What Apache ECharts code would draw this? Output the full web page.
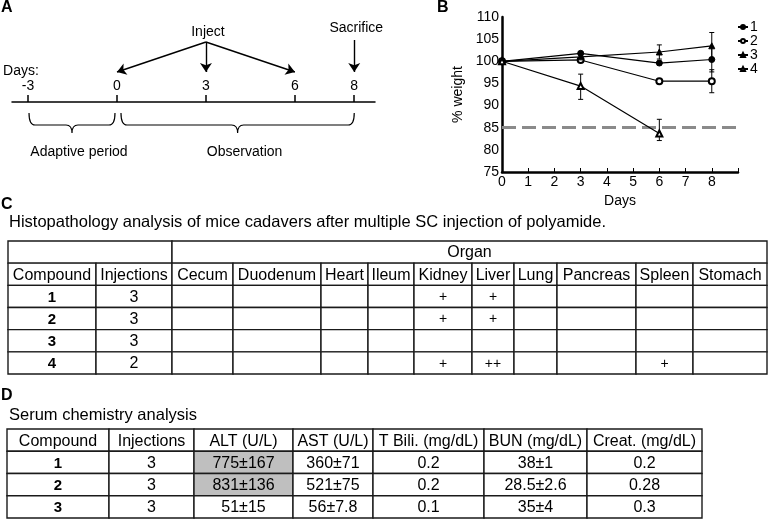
<!DOCTYPE html>
<html><head><meta charset="utf-8">
<script src="https://cdn.jsdelivr.net/npm/echarts@6/dist/echarts.min.js"></script>
<style>html,body{margin:0;padding:0;background:#fff}#c{width:768px;height:519px}</style>
</head><body><div id="c"></div>
<script>
// ---------- Panel A: timeline ----------
const timelineDays = [-3, 0, 3, 6, 8];
const injectDays = [0, 3, 6];
const sacrificeDay = 8;
const periodNames = ['Adaptive period', 'Observation'];
const periodStart = [-3, 0];
const periodEnd = [0, 8];

// ---------- Panel B: body weight ----------
const weightDays = [0, 3, 6, 8];
const seriesNames = ['1', '2', '3', '4'];
const weight1 = [100, 101.8, 99.6, 100.4];
const weight2 = [100, 100.3, 95.5, 95.5];
const weight3 = [100, 101.0, 102.1, 103.5];
const weight4 = [100, 94.4, 83.7];
const errUp1 = [0, 0.3, 0.4, 2.8];
const errDown1 = [0, 0.3, 0.4, 2.8];
const errUp2 = [0, 0.3, 0.3, 2.6];
const errDown2 = [0, 0.3, 0.3, 2.6];
const errUp3 = [0, 0.4, 1.6, 3.0];
const errDown3 = [0, 0.4, 1.6, 3.0];
const errUp4 = [0, 2.7, 3.2];
const errDown4 = [0, 3.0, 1.6];
const thresholdWeight = 85;

// ---------- Panel C: histopathology ----------
const organs = ['Cecum', 'Duodenum', 'Heart', 'Ileum', 'Kidney', 'Liver', 'Lung', 'Pancreas', 'Spleen', 'Stomach'];
const histoCompounds = ['1', '2', '3', '4'];
const histoInjections = ['3', '3', '3', '2'];
const histoFindings = [
  ['', '', '', '', '+', '+', '', '', '', ''],
  ['', '', '', '', '+', '+', '', '', '', ''],
  ['', '', '', '', '', '', '', '', '', ''],
  ['', '', '', '', '+', '++', '', '', '+', '']
];

// ---------- Panel D: serum chemistry ----------
const serumHeaders = ['Compound', 'Injections', 'ALT (U/L)', 'AST (U/L)', 'T Bili. (mg/dL)', 'BUN (mg/dL)', 'Creat. (mg/dL)'];
const serumCompounds = ['1', '2', '3'];
const serumInjections = ['3', '3', '3'];
const serumALT = ['775±167', '831±136', '51±15'];
const serumAST = ['360±71', '521±75', '56±7.8'];
const serumTBili = ['0.2', '0.2', '0.1'];
const serumBUN = ['38±1', '28.5±2.6', '35±4'];
const serumCreat = ['0.2', '0.28', '0.3'];
const serumALTElevated = [true, true, false];

// ---------- layout (not data) ----------
const colWidthsC = [88, 76, 61, 88, 47, 46, 58, 42, 43, 79, 57, 74];
const colWidthsD = [102, 85, 99, 80, 111, 103, 115];
const FONT = 'Liberation Sans';

function cum(w) { const r = [0]; w.forEach(v => r.push(r[r.length - 1] + v)); return r; }
const cumC = cum(colWidthsC), cumD = cum(colWidthsD);

// build cell lists
const cellsC = [];
cellsC.push({c0: 0, c1: 2, r: 0, text: ''});
cellsC.push({c0: 2, c1: 12, r: 0, text: 'Organ'});
['Compound', 'Injections'].concat(organs).forEach((t, i) => cellsC.push({c0: i, c1: i + 1, r: 1, text: t}));
histoCompounds.forEach((cmp, k) => {
  cellsC.push({c0: 0, c1: 1, r: 2 + k, text: cmp, bold: true});
  cellsC.push({c0: 1, c1: 2, r: 2 + k, text: histoInjections[k]});
  histoFindings[k].forEach((f, j) => cellsC.push({c0: 2 + j, c1: 3 + j, r: 2 + k, text: f, small: true}));
});

const cellsD = [];
serumHeaders.forEach((t, i) => cellsD.push({c0: i, c1: i + 1, r: 0, text: t}));
serumCompounds.forEach((cmp, k) => {
  const row = [cmp, serumInjections[k], serumALT[k], serumAST[k], serumTBili[k], serumBUN[k], serumCreat[k]];
  row.forEach((t, i) => cellsD.push({
    c0: i, c1: i + 1, r: 1 + k, text: t, bold: i === 0,
    fill: (i === 2 && serumALTElevated[k]) ? '#bfbfbf' : '#fff'
  }));
});

function tableSeries(idx, cells, cumW) {
  return {
    type: 'custom', xAxisIndex: idx, yAxisIndex: idx, silent: true, clip: false,
    data: cells.map(c => [cumW[c.c0], cumW[c.c1], c.r]),
    encode: {x: [0, 1], y: 2},
    renderItem: function (params, api) {
      const c = cells[params.dataIndex];
      const p0 = api.coord([api.value(0), api.value(2)]);
      const p1 = api.coord([api.value(1), api.value(2) + 1]);
      return {
        type: 'group', children: [
          {type: 'rect', shape: {x: p0[0], y: p0[1], width: p1[0] - p0[0], height: p1[1] - p0[1]},
            style: {fill: c.fill || '#fff', stroke: '#1a1a1a', lineWidth: 1.4}},
          {type: 'text', style: {text: c.text, x: (p0[0] + p1[0]) / 2, y: (p0[1] + p1[1]) / 2 + 1,
            align: 'center', verticalAlign: 'middle',
            fontFamily: FONT, fontSize: c.small ? 14 : (c.bold ? 15 : 16),
            fontWeight: c.bold ? 'bold' : 'normal', fill: '#000'}}
        ]
      };
    }
  };
}

// Panel B series
const weights = [weight1, weight2, weight3, weight4];
const ups = [errUp1, errUp2, errUp3, errUp4];
const downs = [errDown1, errDown2, errDown3, errDown4];
const symbols = ['circle', 'emptyCircle', 'triangle', 'emptyTriangle'];
const errData = [];
weights.forEach((w, s) => w.forEach((v, i) => {
  if (ups[s][i] > 0 || downs[s][i] > 0) errData.push([weightDays[i], v - downs[s][i], v + ups[s][i]]);
}));

const lineSeries = weights.map((w, s) => ({
  type: 'line', name: seriesNames[s], xAxisIndex: 1, yAxisIndex: 1,
  data: w.map((v, i) => [weightDays[i], v]),
  symbol: symbols[s], symbolSize: 6,
  color: '#000', itemStyle: {color: '#000', borderColor: '#000', borderWidth: 1},
  lineStyle: {color: '#000', width: 1.2}, z: 5,
  markLine: s === 0 ? {
    silent: true, symbol: 'none', label: {show: false},
    lineStyle: {color: '#8a8a8a', width: 3, type: [14, 6]},
    data: [{yAxis: thresholdWeight}]
  } : undefined
}));

const errSeries = {
  type: 'custom', xAxisIndex: 1, yAxisIndex: 1, silent: true, z: 4,
  data: errData, encode: {x: 0, y: [1, 2]},
  renderItem: function (params, api) {
    const lo = api.coord([api.value(0), api.value(1)]);
    const hi = api.coord([api.value(0), api.value(2)]);
    const hw = 2.5;
    const st = {stroke: '#000', lineWidth: 1};
    return {type: 'group', children: [
      {type: 'line', shape: {x1: lo[0], y1: lo[1], x2: hi[0], y2: hi[1]}, style: st},
      {type: 'line', shape: {x1: lo[0] - hw, y1: lo[1], x2: lo[0] + hw, y2: lo[1]}, style: st},
      {type: 'line', shape: {x1: hi[0] - hw, y1: hi[1], x2: hi[0] + hw, y2: hi[1]}, style: st}
    ]};
  }
};

// Panel A series (y units: pixels above the timeline axis)
const arrowData = injectDays.map(d => ({coords: [[injectDays[1], 60], [d, 30]]}));
arrowData.push({coords: [[sacrificeDay, 62], [sacrificeDay, 30]]});
const arrowSeries = {
  type: 'lines', coordinateSystem: 'cartesian2d', xAxisIndex: 0, yAxisIndex: 0, clip: false,
  data: arrowData, symbol: ['none', 'arrow'], symbolSize: 9, silent: true,
  lineStyle: {color: '#000', width: 1.4, opacity: 1}
};
const braceSeries = {
  type: 'custom', xAxisIndex: 0, yAxisIndex: 0, silent: true, clip: false,
  data: periodNames.map((n, i) => [periodStart[i], periodEnd[i]]),
  encode: {x: [0, 1]},
  renderItem: function (params, api) {
    const i = params.dataIndex;
    const a = api.coord([api.value(0), 0]);
    const b = api.coord([api.value(1), 0]);
    const y0 = a[1];
    const x1 = a[0] + (i === 0 ? 1 : 4), x2 = b[0] - (i === 0 ? 2 : 0);
    const top = y0 + 11, mid = y0 + 23, tip = y0 + 31, r = 6;
    const xm = (x1 + x2) / 2;
    const d = `M${x1},${top} Q${x1},${mid} ${x1 + r},${mid} L${xm - r},${mid} Q${xm},${mid} ${xm},${tip} ` +
      `M${xm},${tip} Q${xm},${mid} ${xm + r},${mid} L${x2 - r},${mid} Q${x2},${mid} ${x2},${top}`;
    return {type: 'group', children: [
      {type: 'path', shape: {pathData: d}, style: {fill: null, stroke: '#000', lineWidth: 1.2}},
      {type: 'text', style: {text: periodNames[i], x: xm + 7, y: y0 + 50, align: 'center', verticalAlign: 'middle',
        fontFamily: FONT, fontSize: 14, fill: '#000'}}
    ]};
  }
};
const timelineTextSeries = {
  type: 'custom', xAxisIndex: 0, yAxisIndex: 0, silent: true, clip: false,
  data: [[injectDays[1], 70, 0], [sacrificeDay, 74, 1], [timelineDays[0], 31, 2]],
  encode: {x: 0, y: 1},
  renderItem: function (params, api) {
    const labels = ['Inject', 'Sacrifice', 'Days:'];
    const k = api.value(2);
    const p = api.coord([api.value(0), api.value(1)]);
    return {type: 'text', style: {text: labels[k], x: k === 2 ? p[0] - 25 : p[0] + 2, y: p[1],
      align: k === 2 ? 'left' : 'center', verticalAlign: 'middle', fontFamily: FONT, fontSize: 14, fill: '#000'}};
  }
};

const hiddenAxis = (min, max, inverse) => ({type: 'value', min, max, inverse: !!inverse, show: false});

const option = {
  animation: false,
  backgroundColor: '#fff',
  textStyle: {fontFamily: FONT},
  title: [
    {text: 'A', left: 1, top: 0, padding: 0, textStyle: {fontSize: 16, fontWeight: 'bold', color: '#000', fontFamily: FONT}},
    {text: 'B', left: 437, top: 0, padding: 0, textStyle: {fontSize: 16, fontWeight: 'bold', color: '#000', fontFamily: FONT}},
    {text: 'C', left: 1, top: 197, padding: 0, textStyle: {fontSize: 16, fontWeight: 'bold', color: '#000', fontFamily: FONT}},
    {text: 'Histopathology analysis of mice cadavers after multiple SC injection of polyamide.', left: 9, top: 214, padding: 0,
      textStyle: {fontSize: 16.5, fontWeight: 'normal', color: '#000', fontFamily: FONT}},
    {text: 'D', left: 1, top: 388, padding: 0, textStyle: {fontSize: 16, fontWeight: 'bold', color: '#000', fontFamily: FONT}},
    {text: 'Serum chemistry analysis', left: 9, top: 407, padding: 0,
      textStyle: {fontSize: 16.5, fontWeight: 'normal', color: '#000', fontFamily: FONT}}
  ],
  legend: {
    data: seriesNames, orient: 'vertical', left: 737, top: 20, padding: 0,
    itemWidth: 10, itemHeight: 5, itemGap: 0,
    textStyle: {fontSize: 14, lineHeight: 13, color: '#000', fontFamily: FONT, padding: [0, 0, 0, -3]}
  },
  grid: [
    {left: 12, top: 102, width: 363, height: 58},
    {left: 502, top: 17, width: 236, height: 155},
    {left: 8, top: 241, width: 759, height: 133},
    {left: 7, top: 429, width: 695, height: 89}
  ],
  xAxis: [
    {type: 'value', gridIndex: 0, min: -3.54, max: 8.70, position: 'top',
      axisLine: {onZero: false, lineStyle: {color: '#000', width: 1.5}},
      axisTick: {show: true, inside: false, length: 7, customValues: timelineDays, lineStyle: {color: '#000', width: 1.5}},
      axisLabel: {show: true, inside: false, margin: 9, customValues: timelineDays, color: '#000', fontSize: 14, fontFamily: FONT},
      splitLine: {show: false}},
    {type: 'value', gridIndex: 1, min: 0, max: 9, interval: 1,
      name: 'Days', nameLocation: 'middle', nameGap: 22,
      nameTextStyle: {color: '#000', fontSize: 14, fontFamily: FONT},
      axisLine: {onZero: false, lineStyle: {color: '#000', width: 2.5}},
      axisTick: {show: true, inside: true, length: 4, lineStyle: {color: '#000', width: 1}},
      axisLabel: {color: '#000', fontSize: 14, margin: 3, fontFamily: FONT,
        formatter: v => v <= 8 ? String(v) : ''},
      splitLine: {show: false}},
    Object.assign(hiddenAxis(0, cumC[cumC.length - 1]), {gridIndex: 2}),
    Object.assign(hiddenAxis(0, cumD[cumD.length - 1]), {gridIndex: 3})
  ],
  yAxis: [
    Object.assign(hiddenAxis(-58, 0), {gridIndex: 0}),
    {type: 'value', gridIndex: 1, min: 75, max: 110, interval: 5,
      name: '% weight', nameLocation: 'middle', nameGap: 37, nameRotate: 90,
      nameTextStyle: {color: '#000', fontSize: 14, fontFamily: FONT},
      axisLine: {show: true, onZero: false, lineStyle: {color: '#000', width: 2.5}},
      axisTick: {show: false},
      axisLabel: {color: '#000', fontSize: 14, margin: 3, fontFamily: FONT},
      splitLine: {show: false}},
    Object.assign(hiddenAxis(0, 6, true), {gridIndex: 2}),
    Object.assign(hiddenAxis(0, 4, true), {gridIndex: 3})
  ],
  series: [arrowSeries, braceSeries, timelineTextSeries, errSeries]
    .concat(lineSeries)
    .concat([tableSeries(2, cellsC, cumC), tableSeries(3, cellsD, cumD)])
};

const chart = echarts.init(document.getElementById('c'), null, {renderer: 'canvas'});
chart.setOption(option);
</script>
</body></html>
